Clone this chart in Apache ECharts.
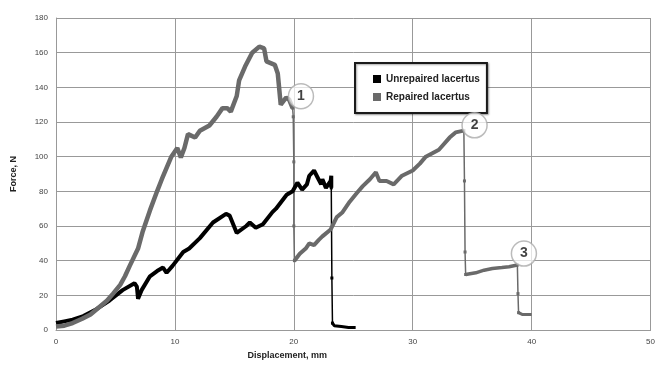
<!DOCTYPE html>
<html>
<head>
<meta charset="utf-8">
<script src="https://cdn.jsdelivr.net/npm/echarts@6/dist/echarts.min.js"></script>
<style>
  html, body { margin: 0; padding: 0; background: #fff; }
  #chart { width: 658px; height: 365px; }
</style>
</head>
<body>
<div id="chart"></div>
<script>
// force (N) against displacement (mm)
const repairedUp = [[0,2],[0.7,2.5],[1.4,4],[2.2,6.5],[2.9,9],[3.6,13],[4.3,17],[4.8,21],[5.4,26],[5.8,31],[6.2,37],[6.9,47],[7.3,57],[7.9,69],[8.5,80],[8.9,87],[9.7,100],[10.2,105],[10.5,99.5],[10.8,105],[11.1,113],[11.7,111],[12.1,115],[12.9,118],[13.5,123],[14,128],[14.4,128],[14.7,126],[15.2,135],[15.4,144],[15.9,152],[16.5,160],[17.1,163.5],[17.5,162.5],[17.7,155],[18.4,153],[18.65,148],[18.9,130],[19.35,134],[19.6,133],[19.9,128]];
const repairedDrop1 = [[19.9,128],[19.95,123],[20,97],[20,60],[20.05,40]];
const repairedMid = [[20.05,40],[20.5,44],[21,47],[21.3,50],[21.7,49],[22.1,52],[22.4,54],[23.1,58],[23.6,65],[24.1,68],[24.7,74],[25.3,79],[25.8,83],[26.4,87],[26.9,91],[27.2,86],[27.8,86],[28.4,84],[29.1,89],[30,92],[30.6,96],[31.1,100],[32.2,104],[33.1,111],[33.6,114],[34.3,115]];
const repairedDrop2 = [[34.3,115],[34.35,86],[34.4,45],[34.45,32]];
const repairedLow = [[34.45,32],[35.3,33],[36,34.5],[36.7,35.5],[37.5,36],[38.1,36.5],[38.8,37.5]];
const repairedDrop3 = [[38.8,37.5],[38.85,21],[38.9,10]];
const repairedEnd = [[38.9,10],[39.2,9],[40,9]];

const unrepairedUp = [[0,4],[0.7,5],[1.4,6],[2.3,8],[3.4,12],[4.5,17],[5.6,23],[6.6,27],[6.8,25],[6.9,18],[7.2,23],[7.9,31],[8.5,34],[9,36],[9.3,33],[9.8,37],[10.7,45],[11.2,47],[12.1,53],[13.2,62],[14.3,67],[14.6,66],[15.2,56],[16,60],[16.3,62],[16.8,59],[17.4,61],[18.2,68],[18.5,70],[19.4,78],[19.9,80],[20.3,85],[20.7,81],[21.1,84],[21.3,89],[21.7,92],[22,88],[22.3,84],[22.4,87],[22.7,82],[23.1,86],[23.15,89],[23.15,82]];
const unrepairedDrop = [[23.15,82],[23.2,30],[23.25,4]];
const unrepairedEnd = [[23.25,4],[23.4,2.5],[24,2],[24.6,1.5],[25.2,1.5]];

const callouts = [[20.6,134.9,'1'],[35.2,118.1,'2'],[39.35,44.1,'3']];

const xTicks = [0, 10, 20, 30, 40, 50];
const yTicks = [0, 20, 40, 60, 80, 100, 120, 140, 160, 180];

const GRAY = '#6a6a6a';
const FONT = 'Liberation Sans';

const thick = (name, data, color, width) => ({
  name, type: 'line', data, showSymbol: false, smooth: false,
  lineStyle: { color, width }, itemStyle: { color }, z: 3
});
const thin = (name, data, color) => ({
  name, type: 'line', data, symbol: 'rect', symbolSize: 3, showSymbol: true,
  lineStyle: { color, width: 1.5 }, itemStyle: { color }, z: 2
});

const chart = echarts.init(document.getElementById('chart'));
chart.setOption({
  animation: false,
  textStyle: { fontFamily: FONT },
  grid: { left: 56, right: 6, top: 18, bottom: 33 },
  legend: {
    data: ['Unrepaired lacertus', 'Repaired lacertus'],
    orient: 'vertical', left: 355, top: 63,
    itemWidth: 8, itemHeight: 8, itemGap: 8, icon: 'rect',
    padding: [11, 7, 11, 18],
    backgroundColor: '#fff', borderColor: '#1a1a1a', borderWidth: 2,
    shadowColor: 'rgba(0,0,0,0.35)', shadowOffsetX: 1, shadowOffsetY: 1, shadowBlur: 2,
    textStyle: { fontSize: 10, fontWeight: 'bold', color: '#222', fontFamily: FONT }
  },
  xAxis: {
    type: 'value', min: xTicks[0], max: xTicks[xTicks.length - 1], interval: 10,
    name: 'Displacement, mm', nameLocation: 'middle', nameGap: 21,
    nameTextStyle: { fontSize: 9, fontWeight: 'bold', color: '#222', padding: [0, 132, 0, 0] },
    axisLine: { lineStyle: { color: '#999', width: 1 } },
    axisTick: { show: false },
    axisLabel: { fontSize: 8, color: '#444', margin: 8 },
    splitLine: { lineStyle: { color: '#999', width: 1 } }
  },
  yAxis: {
    type: 'value', min: yTicks[0], max: yTicks[yTicks.length - 1], interval: 20,
    name: 'Force, N', nameLocation: 'middle', nameGap: 38, nameRotate: 90,
    nameTextStyle: { fontSize: 9, fontWeight: 'bold', color: '#222' },
    axisLine: { show: true, lineStyle: { color: '#999', width: 1 } },
    axisTick: { show: false },
    axisLabel: { fontSize: 8, color: '#444', margin: 8 },
    splitLine: { lineStyle: { color: '#999', width: 1 } }
  },
  series: [
    thick('Unrepaired lacertus', unrepairedUp, '#000', 4),
    thin('Unrepaired lacertus', unrepairedDrop, '#000'),
    thick('Unrepaired lacertus', unrepairedEnd, '#000', 3),
    thick('Repaired lacertus', repairedUp, GRAY, 4.5),
    thin('Repaired lacertus', repairedDrop1, GRAY),
    thick('Repaired lacertus', repairedMid, GRAY, 4),
    thin('Repaired lacertus', repairedDrop2, GRAY),
    thick('Repaired lacertus', repairedLow, GRAY, 3.5),
    thin('Repaired lacertus', repairedDrop3, GRAY),
    thick('Repaired lacertus', repairedEnd, GRAY, 3),
    {
      name: 'callouts', type: 'scatter', z: 5,
      data: callouts.map(c => ({ value: [c[0], c[1]], label: { formatter: c[2] } })),
      symbol: 'circle', symbolSize: 25,
      itemStyle: { color: 'rgba(255,255,255,0.9)', borderColor: '#aaa', borderWidth: 1.5 },
      label: { show: true, position: 'inside', fontSize: 14, fontWeight: 'bold', color: '#111', fontFamily: FONT }
    }
  ]
});
</script>
</body>
</html>
